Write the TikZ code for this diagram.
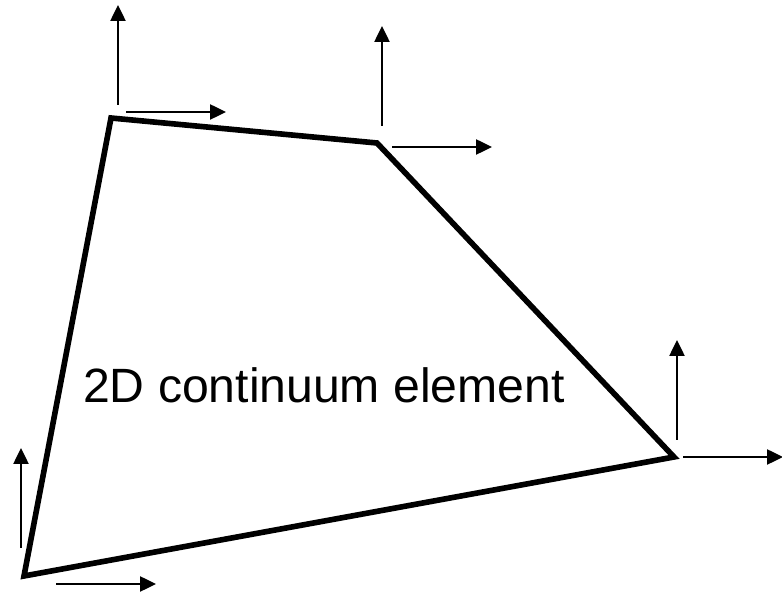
\documentclass[tikz,border=0pt]{standalone}
\usepackage{fontspec}
\setmainfont{Liberation Sans}
\usetikzlibrary{arrows.meta}

\begin{document}
\begin{tikzpicture}[
  x=0.02cm,y=-0.02cm,
  edge/.style={black,line width=3.2pt,line join=miter},
  dof/.style={black,line width=1.2pt,-{Triangle[length=9pt,width=8.5pt]}}
]
\useasboundingbox (0,0) rectangle (782,594);
% corners of the element
\coordinate (n1) at (111,118);
\coordinate (n2) at (377,143);
\coordinate (n3) at (674,457);
\coordinate (n4) at (24,576);
\draw[edge] (n1)--(n2)--(n3)--(n4)--cycle;
% nodal degrees of freedom
\foreach \i/\vx/\vy/\hx/\hy in {1/118/105/126/112,2/382/126/392/147,3/677/440/683/457,4/21/548/56/584}{
  \coordinate (v\i) at (\vx,\vy);
  \coordinate (vt\i) at (\vx,\vy-100);
  \coordinate (h\i) at (\hx,\hy);
  \coordinate (ht\i) at (\hx+100,\hy);
  \draw[dof] (v\i)--(vt\i);
  \draw[dof] (h\i)--(ht\i);
}
\node[anchor=base,inner sep=0pt,font=\fontsize{27.4pt}{32pt}\selectfont] (lbl) at (324,403) {2D continuum element};
\end{tikzpicture}
\end{document}
